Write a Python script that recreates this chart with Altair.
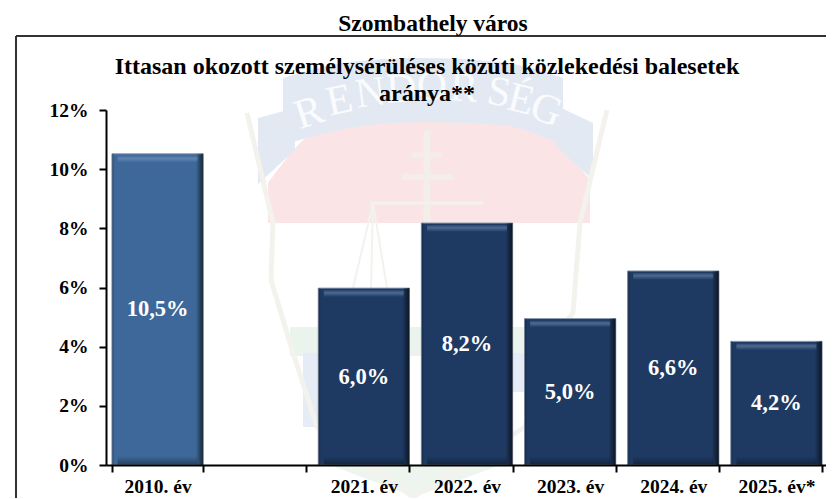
import altair as alt
import pandas as pd

FONT = "Liberation Serif"
categories = ["2010. év", " ", "2021. év", "2022. év", "2023. év", "2024. év", "2025. év*"]
bar_years = ["2010. év", "2021. év", "2022. év", "2023. év", "2024. év", "2025. év*"]
values = [10.52, 5.98, 8.18, 4.95, 6.56, 4.18]
labels = ["10,5%", "6,0%", "8,2%", "5,0%", "6,6%", "4,2%"]
fills = ["#3d6899", "#1e3a63", "#1e3a63", "#1e3a63", "#1e3a63", "#1e3a63"]
y_ticks = [0, 2, 4, 6, 8, 10, 12]
suptitle = "Szombathely város"
title_lines = ["Ittasan okozott személysérüléses közúti közlekedési balesetek", "aránya**"]

# faint emblem in the background: (colour, x, top, bottom) in picture units
emblem_areas = [
    ("#fbe4e6", [268, 330, 430, 527, 590], [183, 125, 120, 125, 180], [223, 223, 223, 223, 223]),
    ("#e3e9f3", [258, 295], [118, 108], [184, 150]),
    ("#e3e9f3", [555, 593], [105, 123], [145, 180]),
    ("#e3e9f3", [283, 350, 420, 500, 563], [78, 62, 58, 62, 78], [145, 128, 122, 125, 145]),
    ("#ebf3ed", [290, 560], [327, 327], [356, 356]),
    ("#e6ecf6", [303, 323], [353, 353], [427, 427]),
    ("#e6ecf6", [511, 524], [353, 353], [392, 392]),
    ("#edf5ee", [330, 415, 500], [465, 465, 465], [465, 497, 465]),
]
emblem_lines = [
    ("#f3f2ed", 5, [247, 273, 271, 290, 317, 413], [113, 223, 280, 343, 427, 497]),
    ("#f3f2ed", 5, [607, 580, 573, 547, 525, 413], [110, 223, 313, 347, 427, 497]),
    ("#f3eee7", 7, [427, 427], [130, 225]),
    ("#f3eee7", 6, [402, 453], [177, 177]),
    ("#f3eee7", 5, [412, 442], [155, 155]),
    ("#f3f2ed", 3, [370, 483], [203, 203]),
    ("#f3f2ed", 2, [373, 353], [203, 288]),
    ("#f3f2ed", 2, [373, 371], [203, 288]),
    ("#f3f2ed", 2, [373, 387], [203, 288]),
]
seal_letters = ["R", "E", "N", "D", "Ő", "R", "S", "É", "G"]
seal_x = [313, 342, 372, 402, 432, 463, 497, 518, 542]
seal_y = [125, 113, 106, 102, 100, 101, 105, 112, 122]
seal_angle = [342, 348, 353, 357, 0, 4, 9, 14, 20]

ex = alt.Scale(domain=[106, 828], range=[0, 722], nice=False, zero=False)
ey = alt.Scale(domain=[465, 110], nice=False, zero=False)
emblem = []
for col, xs, tops, bots in emblem_areas:
    d = pd.DataFrame({"x": xs, "top": tops, "bot": bots})
    emblem.append(alt.Chart(d).mark_area(color=col, interpolate="monotone" if len(xs) == 5 else "linear").encode(
        x=alt.X("x:Q", scale=ex, axis=None),
        y=alt.Y("top:Q", scale=ey, axis=None),
        y2="bot:Q"))
for col, w, xs, ys in emblem_lines:
    d = pd.DataFrame({"x": xs, "y": ys, "i": range(len(xs))})
    emblem.append(alt.Chart(d).mark_line(color=col, strokeWidth=w).encode(
        x=alt.X("x:Q", scale=ex, axis=None),
        y=alt.Y("y:Q", scale=ey, axis=None),
        order="i:Q"))
seal = pd.DataFrame({"t": seal_letters, "x": seal_x, "y": seal_y, "a": seal_angle})
emblem.append(alt.Chart(seal).mark_text(font=FONT, fontSize=42, color="#fafbfd", baseline="alphabetic").encode(
    x=alt.X("x:Q", scale=ex, axis=None),
    y=alt.Y("y:Q", scale=ey, axis=None),
    angle=alt.Angle("a:Q", scale=None),
    text="t:N"))
emblem_layer = alt.layer(*emblem)

bars = pd.DataFrame({"cat": bar_years, "v": values, "lab": labels, "fill": fills})
x_scale = alt.Scale(domain=categories, range=[0, 722], paddingInner=0.115, paddingOuter=0.0575, round=False)
x = alt.X("cat:N", scale=x_scale, title=None,
          axis=alt.Axis(labelAngle=0, tickBand="extent", tickSize=7, tickWidth=2, tickColor="#000",
                        domainColor="#000", domainWidth=2, labelFont=FONT, labelFontWeight="bold",
                        labelFontSize=19.5, labelColor="#000", labelPadding=5, grid=False, zindex=1))
y = alt.Y("v:Q", scale=alt.Scale(domain=[0, 12], nice=False), title=None,
          axis=alt.Axis(values=y_ticks, labelExpr="datum.value + '%'", tickSize=7, tickWidth=2, tickColor="#000",
                        domainColor="#000", domainWidth=2, labelFont=FONT, labelFontWeight="bold",
                        labelFontSize=19.5, labelColor="#000", labelPadding=11, grid=False, zindex=1))
x_plain = alt.X("cat:N", scale=x_scale, title=None)
y_plain = alt.Y("v:Q", title=None)

base = alt.Chart(bars)
body = base.mark_bar(stroke="#8e9db3", strokeWidth=1).encode(
    x=x, y=y, fill=alt.Fill("fill:N", scale=None))

side_shade = base.mark_bar(
    color=alt.Gradient(gradient="linear", x1=0, x2=1, y1=0, y2=0, stops=[
        alt.GradientStop(offset=0, color="rgba(0,0,0,0.3)"),
        alt.GradientStop(offset=0.03, color="rgba(0,0,0,0)"),
        alt.GradientStop(offset=0.92, color="rgba(0,0,0,0)"),
        alt.GradientStop(offset=1, color="rgba(0,0,0,0.65)"),
    ])).encode(x=x_plain, y=y_plain)

top_strip = base.transform_calculate(a="datum.v - 0.07", b="datum.v - 0.3").mark_bar(
    width=80,
    color=alt.Gradient(gradient="linear", x1=0, x2=0, y1=0, y2=1, stops=[
        alt.GradientStop(offset=0, color="rgba(140,170,205,0.12)"),
        alt.GradientStop(offset=0.4, color="rgba(140,170,205,0.42)"),
        alt.GradientStop(offset=1, color="rgba(140,170,205,0)"),
    ])).encode(x=x_plain, y=alt.Y("a:Q", title=None), y2="b:Q")

bottom_strip = base.transform_calculate(a="0.02", b="0.3").mark_bar(
    width=80,
    color=alt.Gradient(gradient="linear", x1=0, x2=0, y1=1, y2=0, stops=[
        alt.GradientStop(offset=0, color="rgba(0,0,0,0.35)"),
        alt.GradientStop(offset=1, color="rgba(0,0,0,0)"),
    ])).encode(x=x_plain, y=alt.Y("a:Q", title=None), y2="b:Q")

value_text = base.transform_calculate(m="datum.v / 2").mark_text(
    font=FONT, fontWeight="bold", fontSize=22.5, color="#fff", baseline="middle").encode(
    x=x_plain, y=alt.Y("m:Q", title=None), text="lab:N")

bar_layer = alt.layer(body, side_shade, top_strip, bottom_strip, value_text)

frame_h = alt.Chart(pd.DataFrame({"n": [0]})).mark_rule(color="#333", strokeWidth=2).encode(
    x=alt.value(-90), x2=alt.value(740), y=alt.value(-74))
frame_v = alt.Chart(pd.DataFrame({"n": [0]})).mark_rule(color="#333", strokeWidth=2).encode(
    x=alt.value(-90), y=alt.value(-74), y2=alt.value(400))
sup = alt.Chart(pd.DataFrame({"t": [suptitle]})).mark_text(
    font=FONT, fontWeight="bold", fontSize=23.5, color="#000", baseline="alphabetic").encode(
    x=alt.value(327), y=alt.value(-79), text="t:N")
t1 = alt.Chart(pd.DataFrame({"t": [title_lines[0]]})).mark_text(
    font=FONT, fontWeight="bold", fontSize=24, color="#000", baseline="alphabetic").encode(
    x=alt.value(321), y=alt.value(-36), text="t:N")
t2 = alt.Chart(pd.DataFrame({"t": [title_lines[1]]})).mark_text(
    font=FONT, fontWeight="bold", fontSize=24, color="#000", baseline="alphabetic").encode(
    x=alt.value(321), y=alt.value(-9), text="t:N")

chart = alt.layer(
    emblem_layer, bar_layer, alt.layer(frame_h, frame_v, sup, t1, t2)
).resolve_scale(x="independent", y="independent").properties(
    width=720, height=355,
    padding={"left": 98, "top": 102, "right": 0, "bottom": 33},
    autosize=alt.AutoSizeParams(type="none"),
    background="#ffffff",
).configure_view(stroke=None)

chart.save("out.html", embed_options={"renderer": "svg", "actions": False})
